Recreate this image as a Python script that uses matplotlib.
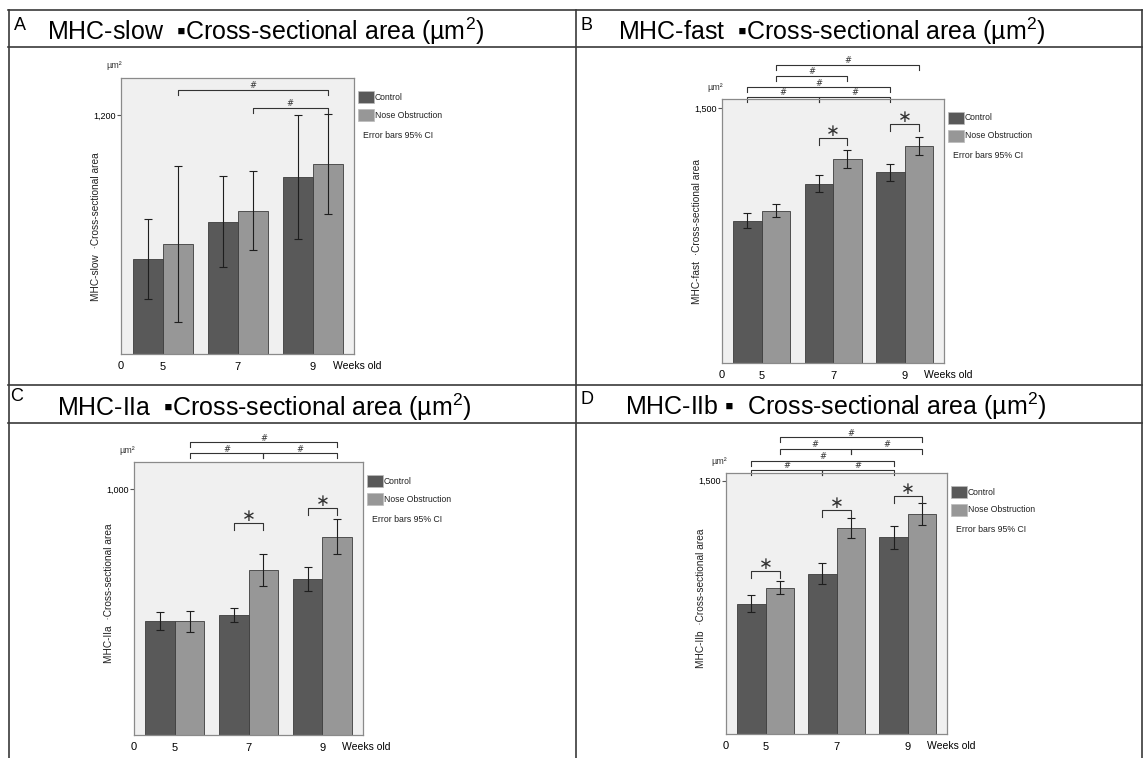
import matplotlib
matplotlib.use("Agg")
import matplotlib.pyplot as plt
from matplotlib.lines import Line2D
from matplotlib.patches import Rectangle
from matplotlib.transforms import offset_copy

W, H = 1147, 758

# ---- values (µm², mean and 95% CI half-width) ----
weeks = ["5", "7", "9"]
series_names = ["Control", "Nose Obstruction"]

slow_control = [477, 664, 889]
slow_control_ci = [201, 228, 312]
slow_nose = [553, 720, 952]
slow_nose_ci = [390, 197, 250]

fast_control = [838, 1055, 1124]
fast_control_ci = [45, 50, 50]
fast_nose = [898, 1201, 1276]
fast_nose_ci = [40, 55, 53]

iia_control = [465, 488, 635]
iia_control_ci = [37, 27, 49]
iia_nose = [462, 671, 806]
iia_nose_ci = [44, 66, 71]

iib_control = [771, 950, 1164]
iib_control_ci = [50, 60, 66]
iib_nose = [867, 1220, 1303]
iib_nose_ci = [40, 57, 63]

# significance brackets: (bar, bar, height in µm²); C = Control, N = Nose Obstruction
slow_hash = [("N5", "N9", 1326), ("N7", "N9", 1235)]
slow_star = []
fast_hash = [("C5", "C7", 1569), ("C7", "C9", 1569), ("C5", "C9", 1624),
             ("N5", "N7", 1693), ("N5", "N9", 1758)]
fast_star = [("C7", "N7", 1323), ("C9", "N9", 1408)]
iia_hash = [("N5", "N7", 1146), ("N7", "N9", 1146), ("N5", "N9", 1192)]
iia_star = [("C7", "N7", 861), ("C9", "N9", 924)]
iib_hash = [("C5", "C7", 1565), ("C7", "C9", 1565), ("C5", "C9", 1620),
            ("N5", "N7", 1690), ("N7", "N9", 1690), ("N5", "N9", 1757)]
iib_star = [("C5", "N5", 966), ("C7", "N7", 1324), ("C9", "N9", 1407)]

# ---- styling ----
C_CONTROL = "#595959"
C_NOSE = "#979797"
C_EDGE = "#3c3c3c"
C_LINE = "#3a3a3a"
SANS = ["Liberation Sans", "DejaVu Sans"]

plt.rcParams["mathtext.fontset"] = "custom"
plt.rcParams["mathtext.rm"] = "Liberation Sans"
plt.rcParams["mathtext.it"] = "Liberation Sans:italic"

fig = plt.figure(figsize=(W / 100, H / 100), dpi=100)


def ftext(x, y, s, **kw):
    fig.text(x / W, 1 - y / H, s, **kw)


def fline(x0, y0, x1, y1):
    fig.add_artist(Line2D([x0 / W, x1 / W], [1 - y0 / H, 1 - y1 / H],
                          transform=fig.transFigure, color=C_LINE, lw=1.2))


# table frame
fline(8, 9.5, 1142, 9.5)
fline(8.5, 9.5, 8.5, 758)
fline(1142, 9.5, 1142, 758)
fline(575.5, 9.5, 575.5, 758)
fline(8, 46.5, 1142, 46.5)
fline(8, 385, 1142, 385)
fline(8, 423, 1142, 423)

panels = [
    dict(letter="A", letter_xy=(14, 25), title_xy=(47, 40),
         title="MHC-slow  \u25aaCross-sectional area (µm$^{2}$)",
         ylabel="MHC-slow  \u00b7Cross-sectional area", ylabel_dy=11,
         box=(121, 78, 354, 354), ytop=1385, ytick=1200, yticklabel="1,200",
         control=slow_control, control_ci=slow_control_ci,
         nose=slow_nose, nose_ci=slow_nose_ci, hashes=slow_hash, stars=slow_star),
    dict(letter="B", letter_xy=(580, 25), title_xy=(618, 40),
         title="MHC-fast  \u25aaCross-sectional area (µm$^{2}$)",
         ylabel="MHC-fast  \u00b7Cross-sectional area", ylabel_dy=0,
         box=(722, 99, 944, 363), ytop=1555, ytick=1500, yticklabel="1,500",
         control=fast_control, control_ci=fast_control_ci,
         nose=fast_nose, nose_ci=fast_nose_ci, hashes=fast_hash, stars=fast_star),
    dict(letter="C", letter_xy=(10, 396), title_xy=(57, 416),
         title="MHC-IIa  \u25aaCross-sectional area (µm$^{2}$)",
         ylabel="MHC-IIa  \u00b7Cross-sectional area", ylabel_dy=-5,
         box=(134, 462, 363, 735), ytop=1111, ytick=1000, yticklabel="1,000",
         control=iia_control, control_ci=iia_control_ci,
         nose=iia_nose, nose_ci=iia_nose_ci, hashes=iia_hash, stars=iia_star),
    dict(letter="D", letter_xy=(580, 399), title_xy=(625, 415),
         title="MHC-IIb \u25aa  Cross-sectional area (µm$^{2}$)",
         ylabel="MHC-IIb  \u00b7Cross-sectional area", ylabel_dy=-5,
         box=(726, 473, 947, 734), ytop=1546, ytick=1500, yticklabel="1,500",
         control=iib_control, control_ci=iib_control_ci,
         nose=iib_nose, nose_ci=iib_nose_ci, hashes=iib_hash, stars=iib_star),
]

x = [i + 1 for i in range(len(weeks))]
bar_w = 0.4
bar_x = {}
for i, w in enumerate(weeks):
    bar_x["C" + w] = x[i] - bar_w / 2
    bar_x["N" + w] = x[i] + bar_w / 2

for p in panels:
    l, t, r, b = p["box"]
    ftext(p["letter_xy"][0], p["letter_xy"][1], p["letter"], fontsize=13,
          family=SANS, ha="left", va="center")
    ftext(p["title_xy"][0], p["title_xy"][1], p["title"], fontsize=18,
          family=SANS, ha="left", va="baseline")

    ax = fig.add_axes([l / W, 1 - b / H, (r - l) / W, (b - t) / H])
    ax.set_facecolor("#f0f0f0")
    for s in ax.spines.values():
        s.set_color("#8a8a8a")
        s.set_linewidth(0.9)

    xc = [v - bar_w / 2 for v in x]
    xn = [v + bar_w / 2 for v in x]
    ax.bar(xc, p["control"], width=bar_w, color=C_CONTROL, edgecolor=C_EDGE,
           linewidth=0.6, label=series_names[0])
    ax.bar(xn, p["nose"], width=bar_w, color=C_NOSE, edgecolor=C_EDGE,
           linewidth=0.6, label=series_names[1])
    ax.errorbar(xc, p["control"], yerr=p["control_ci"], fmt="none",
                ecolor="#1e1e1e", elinewidth=0.8, capsize=2.6, capthick=0.8)
    ax.errorbar(xn, p["nose"], yerr=p["nose_ci"], fmt="none",
                ecolor="#1e1e1e", elinewidth=0.8, capsize=2.6, capthick=0.8)

    ax.set_xlim(0.445, 3.55)
    ax.set_ylim(0, p["ytop"])
    ax.set_yticks([p["ytick"]], [p["yticklabel"]])
    ax.set_xticks(x, weeks)
    ax.tick_params(axis="y", length=3, width=0.8, pad=0.5, color="#555555")
    ax.tick_params(axis="x", length=0, pad=6)
    for lab in ax.get_yticklabels():
        lab.set_family(SANS)
        lab.set_fontsize(6.5)
    for lab in ax.get_xticklabels():
        lab.set_family(SANS)
        lab.set_fontsize(8)

    below = offset_copy(ax.get_xaxis_transform(), fig=fig, y=-12, units="dots")
    ax.text(0.445, 0, "0", transform=below, ha="center", va="center",
            fontsize=8, family=SANS)
    ax.text(3.27, 0, "Weeks old", transform=below, ha="left", va="center",
            fontsize=7.5, family=SANS)

    ftext(l + 1, t - 12, "µm\u00b2", fontsize=6.5, family=SANS, ha="right",
          va="center", color="#333333")
    ftext(l - 25, (t + b) / 2 + p["ylabel_dy"], p["ylabel"], fontsize=7.3,
          family=SANS, rotation=90, ha="center", va="center", color="#222222")

    # legend drawn to the right of the plot box
    for k, (name, col) in enumerate(zip(series_names, [C_CONTROL, C_NOSE])):
        py = t + 13 + 18 * k
        fig.add_artist(Rectangle(((r + 4) / W, 1 - (py + 12) / H), 16 / W, 12 / H,
                                 transform=fig.transFigure, facecolor=col,
                                 edgecolor="#bbbbbb", lw=0.5))
        ftext(r + 21, py + 6, name, fontsize=6.2, family=SANS, ha="left",
              va="center", color="#222222")
    ftext(r + 9, t + 57, "Error bars 95% CI", fontsize=6.3, family=SANS,
          ha="left", va="center", color="#222222")

    upp = p["ytop"] / (b - t)
    for a, c, y in p["hashes"]:
        xa, xb = bar_x[a], bar_x[c]
        leg = 5 * upp
        ax.plot([xa, xa, xb, xb], [y - leg, y, y, y - leg], color="#333333",
                lw=0.8, clip_on=False)
        ax.text((xa + xb) / 2, y, "#",
                transform=offset_copy(ax.transData, fig=fig, y=4, units="dots"),
                ha="center", va="center", fontsize=6, color="#333333")
    for a, c, y in p["stars"]:
        xa, xb = bar_x[a], bar_x[c]
        leg = 7 * upp
        ax.plot([xa, xa, xb, xb], [y - leg, y, y, y - leg], color="#333333",
                lw=0.8, clip_on=False)
        ax.text((xa + xb) / 2, y, "\u2217",
                transform=offset_copy(ax.transData, fig=fig, y=7, units="dots"),
                ha="center", va="center", fontsize=12, color="#333333",
                family=["DejaVu Sans"])

fig.savefig("out.png", dpi=100)
